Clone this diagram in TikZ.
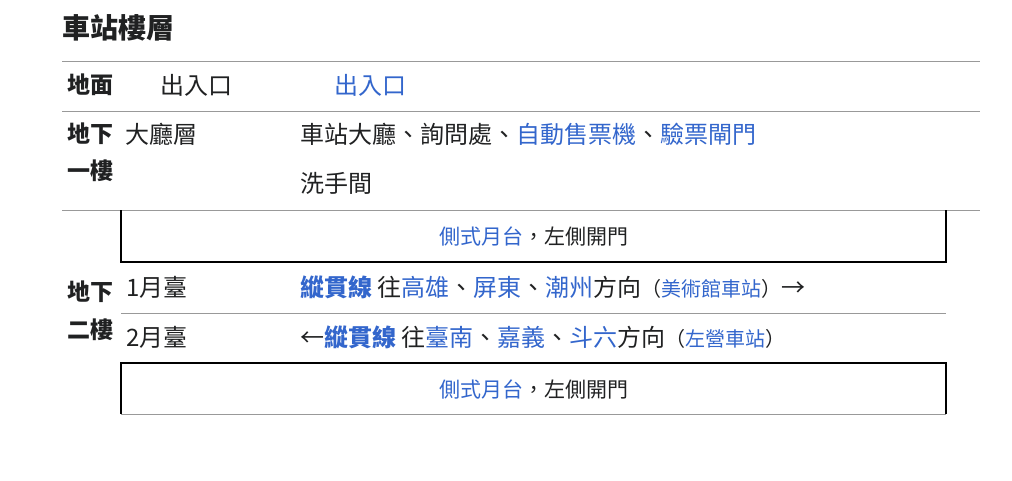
\documentclass[tikz,border=0pt]{standalone}
\usepackage{fontspec}
\setmainfont{Noto Sans CJK TC}
\definecolor{lk}{HTML}{3366CC}
\definecolor{tx}{HTML}{202122}
\begin{document}
\begin{tikzpicture}[x=1pt,y=-1pt,
 t/.style={anchor=west,inner sep=0,text=tx,font=\fontsize{24}{24}\selectfont},
 h/.style={t,font=\fontsize{23}{23}\selectfont\bfseries},
 bt/.style={inner sep=0,text=tx,font=\fontsize{21}{21}\selectfont},
 g/.style={draw=gray!80,line width=1pt},
 k/.style={draw=black,line width=2pt}]
\useasboundingbox (0,0) rectangle (1012,480);
\newcommand{\lb}[1]{\textcolor{lk}{#1}}
\newcommand{\sm}[1]{{\fontsize{20}{20}\selectfont #1}}
\node[t,font=\fontsize{28}{28}\selectfont\bfseries] (title) at (62,28) {車站樓層};
\coordinate (a1) at (62,61); \coordinate (a2) at (980,61);
\coordinate (b1) at (62,111); \coordinate (b2) at (980,111);
\coordinate (c1) at (62,210); \coordinate (c2) at (980,210);
\draw[g] (a1)--(a2); \draw[g] (b1)--(b2); \draw[g] (c1)--(c2);
\node[h] (l0) at (67,85) {地面};
\node[t] (e1) at (160,85) {出入口};
\node[t,text=lk] (e2) at (334,85) {出入口};
\node[h] (l1a) at (67,134) {地下};
\node[h] (l1b) at (67,171) {一樓};
\node[t] (hall) at (125,134) {大廳層};
\node[t] (hallx) at (300,134) {車站大廳、詢問處、\lb{自動售票機}、\lb{驗票閘門}};
\node[t] (wc) at (300,183) {洗手間};
% box 1
\coordinate (p1) at (121,210); \coordinate (p2) at (121,262); \coordinate (p3) at (946,262); \coordinate (p4) at (946,210);
\draw[k,line width=1.5pt] (p1)--(p2); \draw[k,line width=1.5pt] (p4)--(p3); \draw[k] (120.25,262)--(946.75,262);
\node[bt] (s1) at (534,236) {\lb{側式月台}，左側開門};
\node[h] (l2a) at (67,292) {地下};
\node[h] (l2b) at (67,330) {二樓};
\node[t] (pf1) at (126,287) {1月臺};
\node[t] (pf1x) at (300,287) {\lb{\bfseries 縱貫線} 往\lb{高雄}、\lb{屏東}、\lb{潮州}方向\sm{（\lb{美術館車站}）}→};
\coordinate (d1) at (121,313); \coordinate (d2) at (946,313);
\draw[g] (d1)--(d2);
\node[t] (pf2) at (126,337) {2月臺};
\node[t] (pf2x) at (300,337) {←\lb{\bfseries 縱貫線} 往\lb{臺南}、\lb{嘉義}、\lb{斗六}方向\sm{（\lb{左營車站}）}};
% box 2
\coordinate (q1) at (121,363); \coordinate (q2) at (121,414); \coordinate (q3) at (946,414); \coordinate (q4) at (946,363);
\draw[k] (120.25,363)--(946.75,363); \draw[k,line width=1.5pt] (q1)--(q2); \draw[k,line width=1.5pt] (q4)--(q3);
\draw[g] (q2)--(q3);
\node[bt] (s2) at (534,389) {\lb{側式月台}，左側開門};
\end{tikzpicture}
\end{document}
